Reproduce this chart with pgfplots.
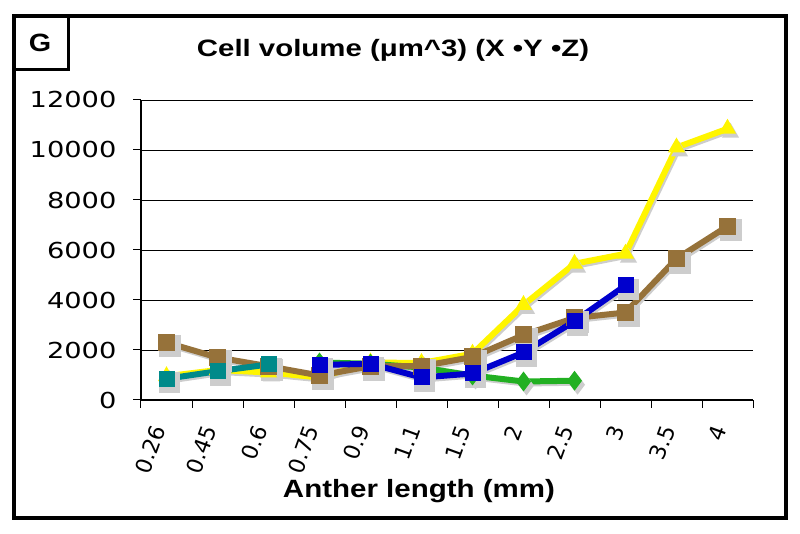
\documentclass[border=0pt]{standalone}
\usepackage{pgfplots}
\pgfplotsset{compat=1.18}
\usepackage{fontspec}
\setmainfont{Liberation Sans}
\newfontfamily\tickfont{DejaVu Sans}
\definecolor{cyel}{RGB}{255,245,0}
\definecolor{cbrown}{RGB}{150,114,58}
\definecolor{cblue}{RGB}{0,0,205}
\definecolor{cgreen}{RGB}{34,176,34}
\definecolor{cteal}{RGB}{0,138,138}
\definecolor{cshadow}{RGB}{205,205,205}
\begin{document}
\begin{tikzpicture}[x=1pt,y=1pt]
\useasboundingbox (0,0) rectangle (800,534);
\begin{axis}[
  at={(141pt,134pt)}, anchor=south west, scale only axis,
  width=612pt, height=300pt,
  xmin=-0.5, xmax=11.5, ymin=0, ymax=12000,
  axis x line*=bottom, axis y line*=left,
  axis line style={-, black, line width=1.2pt},
  tick align=outside, major tick length=8pt,
  tick style={black, line width=1pt},
  xtick={-0.5,0.5,1.5,2.5,3.5,4.5,5.5,6.5,7.5,8.5,9.5,10.5,11.5},
  x tick label as interval,
  xticklabels={0.26,0.45,0.6,0.75,0.9,1.1,1.5,2,2.5,3,3.5,4},
  xticklabel style={font=\tickfont\fontsize{22}{22}\selectfont, xshift=-7pt, yshift=-15pt, rotate=70, anchor=east},
  ytick={0,2000,4000,6000,8000,10000,12000},
  scaled y ticks=false,
  /pgf/number format/.cd, 1000 sep={}, assume math mode=true, /pgfplots/.cd,
  yticklabel={\scalebox{1.24}[1]{\pgfmathprintnumber{\tick}}},
  yticklabel style={font=\tickfont\fontsize{22}{22}\selectfont, anchor=east, xshift=-13pt},
  ymajorgrids, major grid style={black, line width=0.9pt},
  clip=false,
]
% shadows
\addplot[cshadow, line width=6pt, mark=triangle*, mark size=4pt, forget plot, transform canvas={xshift=1.5pt,yshift=-2pt}]
  coordinates {(0,950)(1,1200)(2,1100)(3,900)(4,1500)(5,1480)(6,1850)(7,3800)(8,5450)(9,5850)(10,10100)(11,10850)};
\addplot[cshadow, line width=6pt, mark=diamond*, mark size=5pt, forget plot, transform canvas={xshift=1.5pt,yshift=-2pt}]
  coordinates {(3,1500)(4,1450)(5,1300)(6,980)(7,740)(8,770)};
\addplot[cshadow, line width=6pt, mark=square*, mark size=8pt, forget plot, transform canvas={xshift=1.5pt,yshift=-2pt}]
  coordinates {(0,2300)(1,1700)(2,1350)(3,980)(4,1350)(5,1350)(6,1720)(7,2600)(8,3280)(9,3500)(10,5650)(11,6950)};
\addplot[cshadow, line width=6pt, mark=square*, mark size=7.5pt, forget plot, transform canvas={xshift=1.5pt,yshift=-2pt}]
  coordinates {(3,1400)(4,1450)(5,900)(6,1060)(7,1900)(8,3150)(9,4580)};
\addplot[cshadow, line width=6pt, mark=square*, mark size=7.5pt, forget plot, transform canvas={xshift=1.5pt,yshift=-2pt}]
  coordinates {(0,850)(1,1150)(2,1420)};
% series
\addplot[cyel, line width=6pt, mark=triangle*, mark size=4pt, mark options={fill=cyel, draw=cyel}]
  coordinates {(0,950)(1,1200)(2,1100)(3,900)(4,1500)(5,1480)(6,1850)(7,3800)(8,5450)(9,5850)(10,10100)(11,10850)};
\addplot[cgreen, line width=6pt, mark=diamond*, mark size=5pt, mark options={fill=cgreen, draw=cgreen}]
  coordinates {(3,1500)(4,1450)(5,1300)(6,980)(7,740)(8,770)};
\addplot[cbrown, line width=6pt, mark=square*, mark size=8pt, mark options={fill=cbrown, draw=cbrown, line width=0pt}]
  coordinates {(0,2300)(1,1700)(2,1350)(3,980)(4,1350)(5,1350)(6,1720)(7,2600)(8,3280)(9,3500)(10,5650)(11,6950)};
\addplot[cblue, line width=6pt, mark=square*, mark size=7.5pt, mark options={fill=cblue, draw=cblue, line width=0pt}]
  coordinates {(3,1400)(4,1450)(5,900)(6,1060)(7,1900)(8,3150)(9,4580)};
\addplot[cteal, line width=6pt, mark=square*, mark size=7.5pt, mark options={fill=cteal, draw=cteal, line width=0pt}]
  coordinates {(0,850)(1,1150)(2,1420)};
\end{axis}
\draw[line width=4pt] (14,518) rectangle (785.5,15.5);
\draw[line width=3pt] (14,464) -- (68.5,464) -- (68.5,518);
\node[anchor=base] at (40,482) {\fontsize{25}{25}\selectfont\bfseries\scalebox{1.15}[1]{G}};
\node[anchor=base] at (393,477) {\fontsize{23.7}{24}\selectfont\bfseries\scalebox{1.24}[1]{Cell volume (μm\^{}3) (X •Y •Z)}};
\node[anchor=base] at (419,36) {\fontsize{25}{25}\selectfont\bfseries\scalebox{1.18}[1]{Anther length (mm)}};
\end{tikzpicture}
\end{document}
